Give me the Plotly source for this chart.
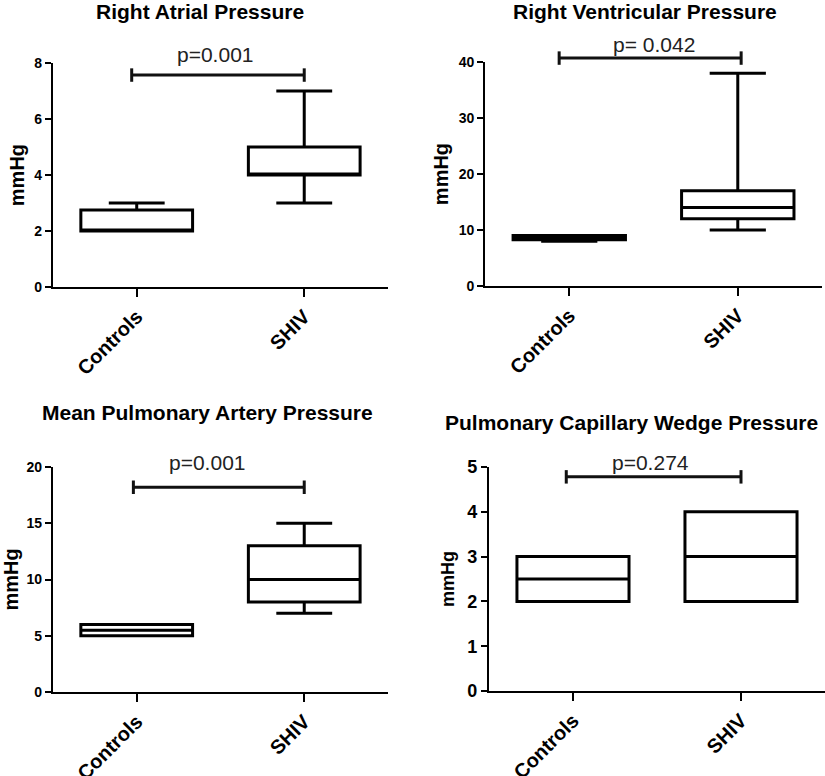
import plotly.graph_objects as go

groups = ["Controls", "SHIV"]
titles = ["Right Atrial Pressure", "Right Ventricular Pressure",
          "Mean Pulmonary Artery Pressure", "Pulmonary Capillary Wedge Pressure"]
p_labels = ["p=0.001", "p= 0.042", "p=0.001", "p=0.274"]

# per-panel box statistics, [Controls, SHIV]
q1 = [[2, 4], [8.25, 12], [5, 8], [2, 2]]
median = [[2, 4], [8.5, 14], [5.5, 10], [2.5, 3]]
q3 = [[2.75, 5], [9, 17], [6, 13], [3, 4]]
lower = [[2, 3], [8, 10], [5, 7], [2, 2]]
upper = [[3, 7], [9, 38], [6, 15], [3, 4]]

y_max = [8, 40, 20, 5]
y_dtick = [2, 10, 5, 1]

# significance bars (value units)
bar_y = [7.57, 40.7, 18.2, 4.78]
bar_x0 = [-0.03, -0.06, -0.02, -0.04]
bar_x1 = [1.0, 1.02, 1.0, 1.0]
p_x = [0.47, 0.50, 0.42, 0.46]
p_y = [8.29, 43.2, 20.4, 5.09]

# layout
x_domains = [[0.0642, 0.4703], [0.5879, 0.9964], [0.0642, 0.4703], [0.5927, 1.0]]
y_domains = [[0.630, 0.9188], [0.6314, 0.9201], [0.1082, 0.3982], [0.1095, 0.3982]]
title_pos = [(0.2424, 0.9858), (0.7818, 0.9858), (0.252, 0.4678), (0.766, 0.4549)]
title_sizes = [21, 21, 21, 21]
tick_sizes = [14, 14, 14, 18]
ytitle_sizes = [20, 20, 20, 18]
ytitle_standoff = [4, 5, 8, 8]

FONT = "Liberation Sans"

fig = go.Figure()
layout = dict(
    width=825, height=776,
    margin=dict(l=0, r=0, t=0, b=0, autoexpand=False),
    paper_bgcolor="white", plot_bgcolor="white",
    showlegend=False,
    font=dict(family=FONT, color="black"),
)
shapes = []
annotations = []

for i in range(4):
    sfx = "" if i == 0 else str(i + 1)
    xa, ya = "x" + sfx, "y" + sfx
    for g in range(2):
        fig.add_trace(go.Box(
            x=[g], q1=[q1[i][g]], median=[median[i][g]], q3=[q3[i][g]],
            lowerfence=[lower[i][g]], upperfence=[upper[i][g]],
            width=0.667, whiskerwidth=0.5,
            line=dict(color="black", width=3), fillcolor="white",
            boxpoints=False, xaxis=xa, yaxis=ya, hoverinfo="skip",
        ))
    layout["xaxis" + sfx] = dict(
        domain=x_domains[i], anchor=ya, range=[-0.5, 1.5], automargin=False,
        tickvals=[0, 1], ticktext=groups, tickangle=-45,
        showline=True, linecolor="black", linewidth=2,
        ticks="outside", ticklen=8, tickwidth=2, tickcolor="black",
        showgrid=False, zeroline=False,
        tickfont=dict(family=FONT, size=20, weight="bold", color="black"),
    )
    layout["yaxis" + sfx] = dict(
        domain=y_domains[i], anchor=xa, range=[0, y_max[i]], automargin=False,
        tick0=0, dtick=y_dtick[i],
        showline=True, linecolor="black", linewidth=2,
        ticks="outside", ticklen=6, tickwidth=2, tickcolor="black",
        showgrid=False, zeroline=False,
        tickfont=dict(family=FONT, size=tick_sizes[i], weight="bold", color="black"),
        title=dict(text="mmHg", standoff=ytitle_standoff[i],
                   font=dict(family=FONT, size=ytitle_sizes[i], weight="bold", color="black")),
    )
    # significance bar
    yb = bar_y[i] / y_max[i]
    cap = 0.03
    shapes.append(dict(type="line", xref=xa, yref=ya + " domain",
                       x0=bar_x0[i], x1=bar_x1[i], y0=yb, y1=yb,
                       line=dict(color="#111", width=3)))
    for xe in (bar_x0[i], bar_x1[i]):
        shapes.append(dict(type="line", xref=xa, yref=ya + " domain",
                           x0=xe, x1=xe, y0=yb - cap, y1=yb + cap,
                           line=dict(color="#111", width=3)))
    annotations.append(dict(text=p_labels[i], xref=xa, yref=ya + " domain",
                            x=p_x[i], y=p_y[i] / y_max[i],
                            showarrow=False, xanchor="center", yanchor="middle",
                            font=dict(family=FONT, size=21, color="#222")))
    annotations.append(dict(text=titles[i], xref="paper", yref="paper",
                            x=title_pos[i][0], y=title_pos[i][1],
                            showarrow=False, xanchor="center", yanchor="middle",
                            font=dict(family=FONT, size=title_sizes[i], weight="bold", color="black")))

layout["shapes"] = shapes
layout["annotations"] = annotations
fig.update_layout(**layout)
fig.write_html("out.html", config={"displayModeBar": False},
               post_script="document.body.style.margin='0px';")
